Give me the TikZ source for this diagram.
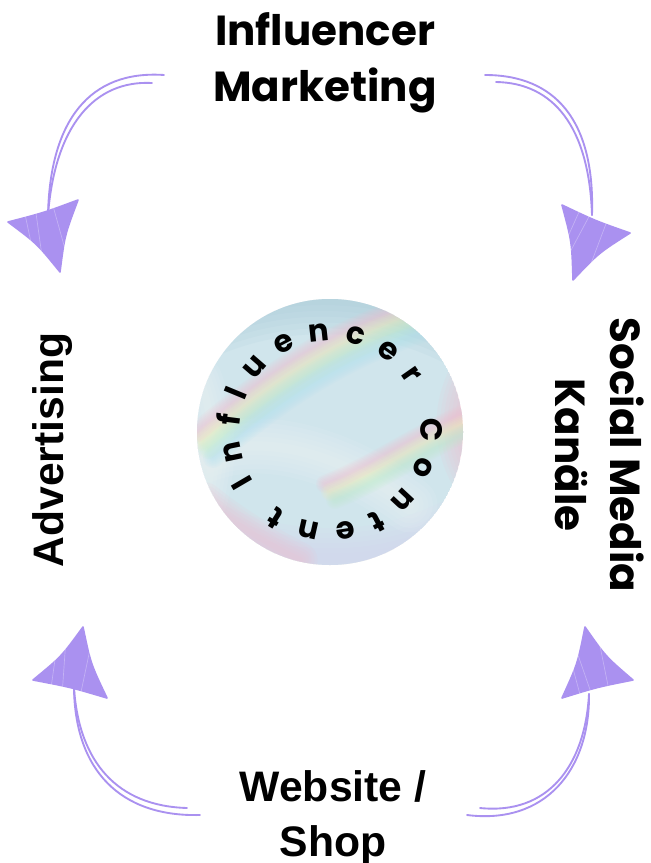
\documentclass[tikz,border=0pt]{standalone}
\usepackage{fontspec}
\setmainfont{Poppins}
\newfontfamily\grotesk{Liberation Sans}
\usetikzlibrary{calc,decorations.text}
\definecolor{sketch}{RGB}{170,145,240}
\definecolor{holobase}{RGB}{208,229,236}
\definecolor{holoteal}{RGB}{162,198,214}
\definecolor{holopink}{RGB}{242,190,207}
\definecolor{holoyellow}{RGB}{240,236,184}
\definecolor{hologreen}{RGB}{190,236,204}
\definecolor{holocyan}{RGB}{176,226,238}
\definecolor{hololilac}{RGB}{218,210,238}
\definecolor{holowhite}{RGB}{240,245,247}
\tikzset{
  toptext/.style={font=\fontsize{31.5}{36}\selectfont\bfseries, inner sep=0pt, anchor=base},
  sidetext/.style={font=\grotesk\fontsize{32}{36}\selectfont\bfseries, inner sep=0pt, anchor=base},
  sketchline/.style={draw=sketch, line width=1.4pt, line cap=round},
}
\newcommand\holoband[3]{\foreach \k in {1,...,6}{\draw[#1,line width=#2*\k*0.125pt,opacity=0.11,line cap=round] #3;}}
\newcommand\sketchhead[3]{%
  \filldraw[sketch, line width=1.2pt, line join=round] (#1) .. controls ($($(#1)!0.5!(#2)$)!0.03!(#3)$) .. (#2)
    .. controls ($($(#2)!0.5!(#3)$)!0.07!(#1)$) .. (#3)
    .. controls ($($(#3)!0.5!(#1)$)!0.07!(#2)$) .. (#1) -- cycle;
  \draw[white, opacity=0.3, line width=0.5pt, line cap=round]
    ($(#1)!0.4!(#2)$) -- ($(#3)!0.35!(#1)$)
    ($(#1)!0.65!(#2)$) -- ($(#3)!0.3!(#2)$)
    ($(#1)!0.25!(#2)$) -- ($(#1)!0.45!(#3)$);
}
\begin{document}
\begin{tikzpicture}[x=0.75pt,y=-0.75pt]
\useasboundingbox[fill=white] (0,0) rectangle (650,863);

% holographic disc
\begin{scope}
  \clip (330,432) circle[radius=133];
  \fill[holobase] (330,432) circle[radius=133];
  \holoband{holoteal}{70}{(190,330) .. controls (280,285) and (390,290) .. (475,340)}
  \holoband{hololilac}{60}{(195,525) .. controls (270,565) and (380,575) .. (470,520)}
  \holoband{holowhite}{55}{(205,455) .. controls (270,430) and (350,460) .. (410,505)}
  \holoband{holowhite}{45}{(200,380) .. controls (215,420) and (215,460) .. (205,500)}
  \holoband{holopink,shift={(-8,-13)}}{20}{(205,445) .. controls (270,390) and (350,330) .. (470,305)}
  \holoband{holoyellow,shift={(-3,-4)}}{20}{(205,445) .. controls (270,390) and (350,330) .. (470,305)}
  \holoband{hologreen,shift={(3,4)}}{20}{(205,445) .. controls (270,390) and (350,330) .. (470,305)}
  \holoband{holocyan,shift={(8,13)}}{20}{(205,445) .. controls (270,390) and (350,330) .. (470,305)}
  \holoband{holopink}{45}{(472,375) .. controls (455,405) and (455,440) .. (470,470)}
  \holoband{holopink,shift={(-5,-8)}}{18}{(330,492) .. controls (380,472) and (420,442) .. (472,420)}
  \holoband{holoyellow}{18}{(330,492) .. controls (380,472) and (420,442) .. (472,420)}
  \holoband{hologreen,shift={(5,8)}}{18}{(330,492) .. controls (380,472) and (420,442) .. (472,420)}
  \holoband{holopink}{35}{(205,500) .. controls (230,520) and (260,540) .. (300,560)}
\end{scope}
\node[circle, minimum size=200pt, inner sep=0pt] (disc) at (330,432) {};
\begin{scope}[shift={(330,432)}, x=0.75pt, y=0.75pt]
  \path[decorate, decoration={text along path,
      text={|\fontsize{23}{23}\selectfont\bfseries|Influencer Content},
      text align={fit to path}}]
    (213:91) arc[start angle=213, end angle=-126, radius=91];
\end{scope}

% labels
\node[toptext] (inf) at (325,46) {Influencer};
\node[toptext] (mkt) at (325,102) {Marketing};
\node[sidetext] (web) at (333,801) {Website /};
\node[sidetext] (shop) at (333,856) {Shop};
\node[sidetext, rotate=90] (adv) at (63,450) {Advertising};
\node[toptext, rotate=-90] (soc) at (610,455) {Social Media};
\node[toptext, rotate=-90] (kan) at (555,455) {Kanäle};

% top-left arrow
\coordinate (tlA) at (164,75);
\coordinate (tlB) at (152,83);
\coordinate (tlE) at (48,215);
\coordinate (tlL) at (8,222);
\coordinate (tlR) at (78,200);
\coordinate (tlT) at (60,272);
\draw[sketchline] (tlA) .. controls (90,70) and (50,120) .. (tlE);
\draw[sketchline] (tlB) .. controls (95,80) and (55,125) .. (tlE);
\sketchhead{tlL}{tlR}{tlT}

% top-right arrow
\coordinate (trA) at (485,75);
\coordinate (trB) at (496,82);
\coordinate (trE) at (592,215);
\coordinate (trL) at (562,205);
\coordinate (trR) at (630,233);
\coordinate (trT) at (573,280);
\draw[sketchline] (trA) .. controls (555,75) and (595,120) .. (trE);
\draw[sketchline] (trB) .. controls (553,83) and (589,126) .. (trE);
\sketchhead{trL}{trR}{trT}

% bottom-left arrow
\coordinate (blA) at (200,815);
\coordinate (blB) at (187,808);
\coordinate (blE) at (74,688);
\coordinate (blL) at (33,680);
\coordinate (blR) at (107,698);
\coordinate (blT) at (83,627);
\draw[sketchline] (blA) .. controls (120,817) and (75,770) .. (blE);
\draw[sketchline] (blB) .. controls (117,806) and (79,762) .. (blE);
\sketchhead{blL}{blR}{blT}

% bottom-right arrow
\coordinate (brA) at (467,815);
\coordinate (brB) at (480,808);
\coordinate (brE) at (589,694);
\coordinate (brL) at (562,698);
\coordinate (brR) at (633,680);
\coordinate (brT) at (585,627);
\draw[sketchline] (brA) .. controls (545,825) and (590,770) .. (brE);
\draw[sketchline] (brB) .. controls (548,815) and (585,766) .. (brE);
\sketchhead{brL}{brR}{brT}
\end{tikzpicture}
\end{document}
